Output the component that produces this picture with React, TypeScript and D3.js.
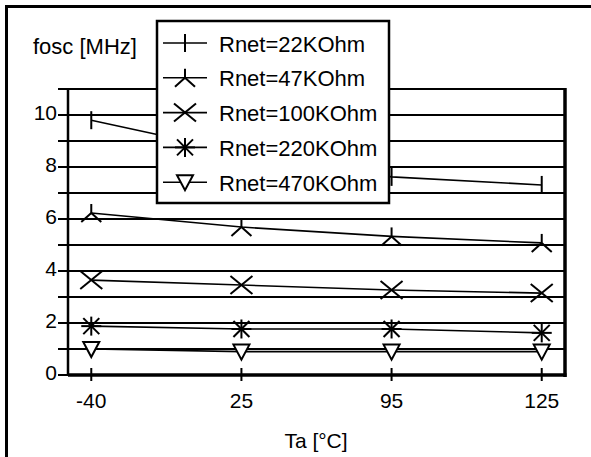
import React from "react";
import * as d3 from "d3";

const categories = ["-40", "25", "95", "125"];
const yTicks = [0, 2, 4, 6, 8, 10];
const gridValues = [0, 1, 2, 3, 4, 5, 6, 7, 8, 9, 10, 11];
const seriesNames = ["Rnet=22KOhm", "Rnet=47KOhm", "Rnet=100KOhm", "Rnet=220KOhm", "Rnet=470KOhm"];
const r22 = [9.8, 8.55, 7.62, 7.31];
const r47 = [6.23, 5.69, 5.33, 5.08];
const r100 = [3.65, 3.46, 3.27, 3.15];
const r220 = [1.88, 1.77, 1.77, 1.62];
const r470 = [1.0, 0.9, 0.9, 0.9];
const seriesValues = [r22, r47, r100, r220, r470];
const markerTypes = ["plus", "lambda", "x", "star", "tri"];

const W = 591;
const H = 457;
const FONT = "'Liberation Sans', Arial, sans-serif";

function Marker({ type, cx, cy }: { type: string; cx: number; cy: number }) {
  const s = { stroke: "#000", strokeWidth: 2, fill: "none" } as const;
  if (type === "plus") {
    return <line x1={cx} x2={cx} y1={cy - 9} y2={cy + 9} {...s} />;
  }
  if (type === "lambda") {
    return (
      <g>
        <line x1={cx} x2={cx} y1={cy - 9} y2={cy} {...s} />
        <line x1={cx} x2={cx - 10} y1={cy} y2={cy + 9} {...s} />
        <line x1={cx} x2={cx + 10} y1={cy} y2={cy + 9} {...s} />
      </g>
    );
  }
  if (type === "x") {
    return (
      <g>
        <line x1={cx - 11} x2={cx + 11} y1={cy - 9} y2={cy + 9} {...s} />
        <line x1={cx - 11} x2={cx + 11} y1={cy + 9} y2={cy - 9} {...s} />
      </g>
    );
  }
  if (type === "star") {
    return (
      <g>
        <line x1={cx} x2={cx} y1={cy - 9.5} y2={cy + 9.5} {...s} />
        <line x1={cx - 10} x2={cx + 10} y1={cy} y2={cy} {...s} />
        <line x1={cx - 8} x2={cx + 8} y1={cy - 8} y2={cy + 8} {...s} />
        <line x1={cx - 8} x2={cx + 8} y1={cy + 8} y2={cy - 8} {...s} />
      </g>
    );
  }
  return (
    <polygon
      points={`${cx - 8},${cy - 7} ${cx + 8},${cy - 7} ${cx},${cy + 8}`}
      fill="#fff"
      stroke="#000"
      strokeWidth={2}
    />
  );
}

export default function App() {
  const left = 68;
  const right = 565;
  const top = 89;
  const bottom = 375;
  const x = d3.scalePoint<string>().domain(categories).range([left, right]).padding(0.155);
  const y = d3.scaleLinear().domain([0, 11]).range([bottom, top]);
  const line = d3
    .line<number>()
    .x((_, i) => x(categories[i]) as number)
    .y((d) => y(d));

  const legend = { x: 157, y: 21, w: 232, h: 182 };
  const rowY = (i: number) => 43 + i * 34.8;

  return (
    <svg
      width={W}
      height={H}
      style={{ position: "absolute", left: 0, top: 0, background: "#fff" }}
      fontFamily={FONT}
    >
      <rect x={0} y={0} width={W} height={H} fill="#fff" />
      {/* outer frame */}
      <line x1={5} x2={W} y1={6.5} y2={6.5} stroke="#000" strokeWidth={3} />
      <line x1={6.5} x2={6.5} y1={5} y2={H} stroke="#000" strokeWidth={3} />

      {/* gridlines */}
      {gridValues.map((v) => (
        <line key={v} x1={58} x2={right} y1={y(v)} y2={y(v)} stroke="#000" strokeWidth={2.2} />
      ))}
      {/* axes */}
      <line x1={left} x2={left} y1={top - 1} y2={bottom + 1} stroke="#000" strokeWidth={2.5} />
      <line x1={right} x2={right} y1={top - 1} y2={bottom + 2} stroke="#000" strokeWidth={3.5} />
      <line x1={left} x2={right + 1.5} y1={bottom} y2={bottom} stroke="#000" strokeWidth={3.5} />
      {categories.map((c) => (
        <line key={c} x1={x(c)} x2={x(c)} y1={368} y2={381} stroke="#000" strokeWidth={2} />
      ))}

      {/* tick labels */}
      {yTicks.map((v) => (
        <text key={v} x={57} y={y(v) + 5} fontSize={21} textAnchor="end" fill="#000">
          {v}
        </text>
      ))}
      {categories.map((c) => (
        <text key={c} x={x(c)} y={408} fontSize={21} textAnchor="middle" fill="#000">
          {c}
        </text>
      ))}
      <text x={316} y={448} fontSize={21} textAnchor="middle" fill="#000">
        Ta [°C]
      </text>
      <text x={33} y={54} fontSize={22} fill="#000">
        fosc [MHz]
      </text>

      {/* series */}
      {seriesValues.map((vals, si) => (
        <g key={si}>
          <path d={line(vals) as string} fill="none" stroke="#000" strokeWidth={1.6} />
          {vals.map((v, i) => (
            <Marker key={i} type={markerTypes[si]} cx={x(categories[i]) as number} cy={y(v)} />
          ))}
        </g>
      ))}

      {/* legend */}
      <rect
        x={legend.x}
        y={legend.y}
        width={legend.w}
        height={legend.h}
        fill="#fff"
        stroke="#000"
        strokeWidth={2.5}
      />
      {seriesNames.map((n, i) => (
        <g key={n}>
          <line x1={163} x2={207} y1={rowY(i)} y2={rowY(i)} stroke="#000" strokeWidth={1.6} />
          <Marker type={markerTypes[i]} cx={185} cy={rowY(i)} />
          <text x={219} y={rowY(i) + 8.5} fontSize={22} fill="#000">
            {n}
          </text>
        </g>
      ))}
    </svg>
  );
}
